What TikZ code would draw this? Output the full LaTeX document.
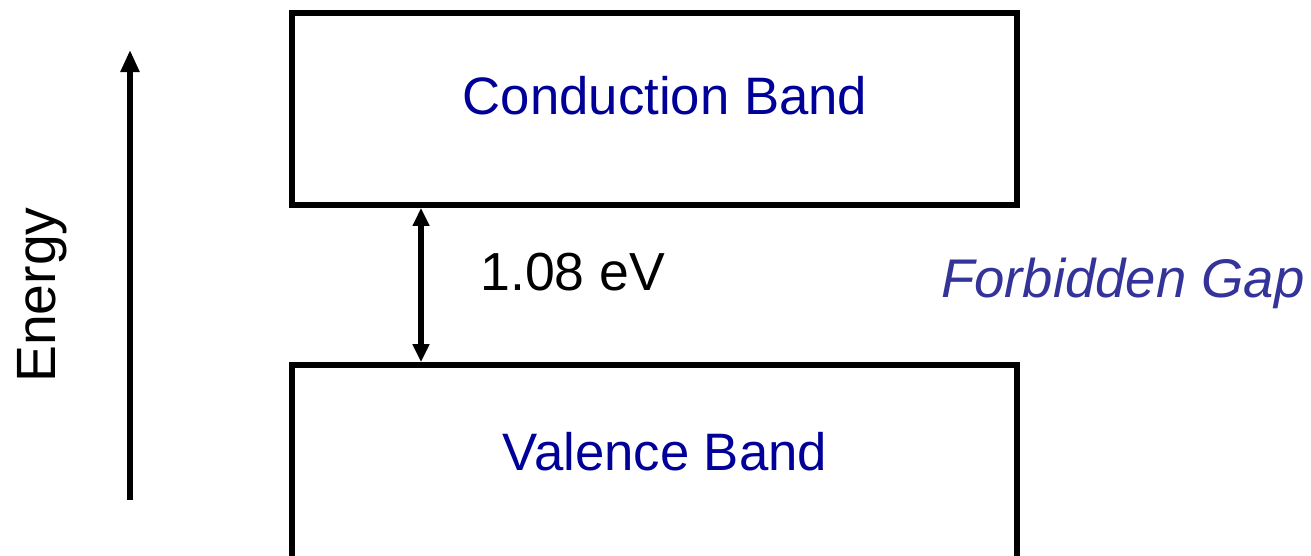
\documentclass[tikz,border=0pt]{standalone}
\usepackage{fontspec}
\setmainfont{Liberation Sans}
\usetikzlibrary{positioning,arrows.meta}
\definecolor{bandblue}{RGB}{0,0,153}
\definecolor{gapblue}{RGB}{51,51,153}

\begin{document}
\begin{tikzpicture}[x=0.02cm, y=0.02cm,
        Band/.style  ={draw=black, line width=3.4pt, rectangle, minimum width=14.5cm, text depth=0.55cm, text=bandblue, font=\fontsize{30}{35}\selectfont, execute at begin node=\hspace*{0.42cm}},
        Label/.style ={font=\fontsize{30.5}{36}\selectfont},
        every path/.style ={line width=3pt},
    ]
\useasboundingbox (0,0) rectangle (1311,-555);

% Nodes

\node (cb) [Band, minimum height=3.84cm] at (654.5,-109) {Conduction Band};
\node (vb) [Band, minimum height=4cm] at (654.5,-465) {Valence Band};
\node (gap) [Label, anchor=west] at (472,-272) {1.08 eV};
\node (forb) [Label, text=gapblue, font=\fontsize{31}{37}\selectfont\itshape, anchor=east] at (1313,-283) {Forbidden Gap};
\node (energy) [Label, font=\fontsize{31.5}{37}\selectfont, rotate=90] at (42,-295) {Energy};
\coordinate (elow) at (130,-500);
\coordinate (ehigh) at (130,-50);
\coordinate (gx) at (421,0);

% Arrows
\draw [-{Triangle[length=0.44cm, width=0.36cm]}] (elow) -- (ehigh);
\draw [{Triangle[length=0.36cm, width=0.32cm]}-{Triangle[length=0.36cm, width=0.32cm]}] (cb.south -| gx) -- (vb.north -| gx);

\end{tikzpicture}
\end{document}
